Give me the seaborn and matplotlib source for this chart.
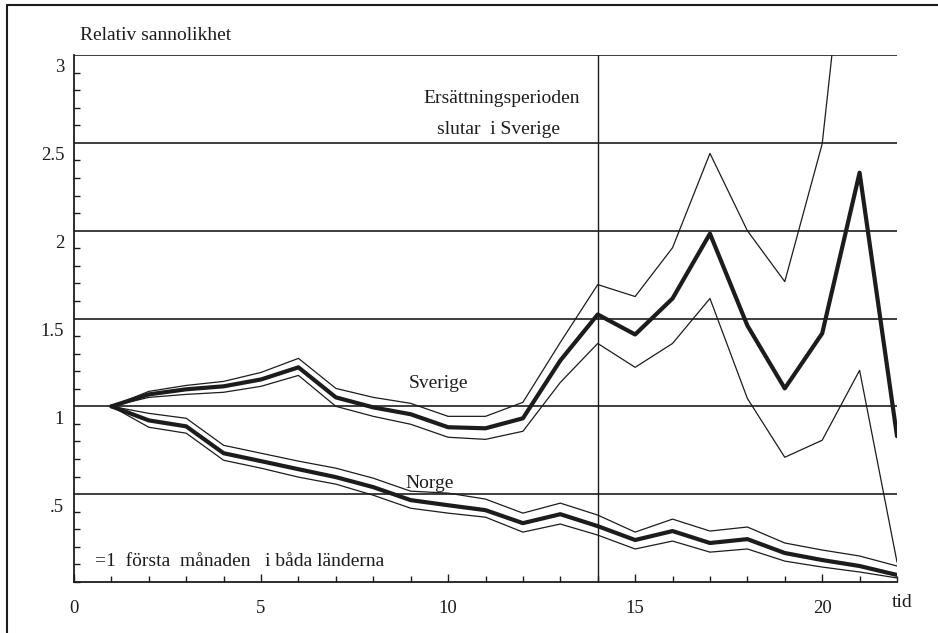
import numpy as np
import pandas as pd
import seaborn as sns
import matplotlib
matplotlib.use("Agg")
import matplotlib.pyplot as plt
import matplotlib.transforms as mtransforms
from matplotlib.lines import Line2D
from matplotlib.ticker import MultipleLocator, FixedLocator

# ---- data ----
months = list(range(1, 23))

sverige = [1.0, 1.068, 1.097, 1.114, 1.153, 1.222, 1.051, 0.994, 0.955, 0.881, 0.875,
           0.932, 1.261, 1.523, 1.409, 1.614, 1.983, 1.46, 1.102, 1.415, 2.33, 0.83]
sverige_hi = [1.0, 1.085, 1.119, 1.142, 1.193, 1.273, 1.102, 1.051, 1.017, 0.943, 0.943,
              1.023, 1.364, 1.693, 1.625, 1.903, 2.44, 2.0, 1.71, 2.494, 4.44, 5.0]
sverige_lo = [1.0, 1.051, 1.068, 1.08, 1.114, 1.176, 1.0, 0.943, 0.898, 0.824, 0.812,
              0.858, 1.136, 1.358, 1.222, 1.358, 1.614, 1.045, 0.71, 0.807, 1.205, 0.114]

norge = [1.0, 0.92, 0.886, 0.733, 0.688, 0.642, 0.597, 0.54, 0.466, 0.437, 0.409,
         0.335, 0.386, 0.318, 0.239, 0.29, 0.222, 0.244, 0.165, 0.125, 0.091, 0.04]
norge_hi = [1.0, 0.96, 0.932, 0.778, 0.733, 0.688, 0.648, 0.591, 0.517, 0.506, 0.472,
            0.392, 0.449, 0.381, 0.284, 0.358, 0.29, 0.313, 0.222, 0.182, 0.148, 0.091]
norge_lo = [1.0, 0.881, 0.847, 0.693, 0.648, 0.597, 0.557, 0.494, 0.42, 0.392, 0.369,
            0.284, 0.33, 0.267, 0.188, 0.233, 0.17, 0.188, 0.119, 0.085, 0.057, 0.023]

x_ticks = [0, 5, 10, 15, 20]
y_ticks = [0.5, 1.0, 1.5, 2.0, 2.5, 3.0]
y_tick_labels = [".5", "1", "1.5", "2", "2.5", "3"]
period_end = 14

# ---- style ----
sns.set_style("white")
plt.rcParams["font.family"] = ["Liberation Serif", "DejaVu Serif"]
INK = "#1c1c1c"

fig = plt.figure(figsize=(9.38, 6.33), dpi=100)
ax = fig.add_axes([74 / 938, 51 / 633, (897 - 74) / 938, (582 - 55) / 633])

series = [
    (sverige, 3.0), (sverige_hi, 0.9), (sverige_lo, 0.9),
    (norge, 3.0), (norge_hi, 0.9), (norge_lo, 0.9),
]
for vals, lw in series:
    df = pd.DataFrame({"tid": months, "v": vals})
    sns.lineplot(data=df, x="tid", y="v", ax=ax, color=INK, lw=lw, zorder=3)

for yv in y_ticks:
    ax.axhline(yv, color=INK, lw=1.2, zorder=2)
ax.axvline(period_end, color=INK, lw=1.0, zorder=2)

ax.set_xlim(0, 22)
ax.set_ylim(0, 3)
ax.set_xlabel("")
ax.set_ylabel("")

for s in ["top", "right"]:
    ax.spines[s].set_visible(False)
for s in ["left", "bottom"]:
    ax.spines[s].set_color(INK)
    ax.spines[s].set_linewidth(1.3)

ax.xaxis.set_major_locator(FixedLocator(x_ticks))
ax.xaxis.set_minor_locator(MultipleLocator(1))
ax.set_xticks(x_ticks)
ax.set_xticklabels([str(t) for t in x_ticks])
ax.set_yticks(y_ticks)
ax.set_yticklabels(y_tick_labels)
ax.yaxis.set_minor_locator(MultipleLocator(0.1))

ax.tick_params(axis="x", which="major", direction="in", length=6, width=1, color=INK,
               labelsize=13.5, pad=13, labelcolor=INK, bottom=True)
ax.tick_params(axis="x", which="minor", direction="in", length=4, width=1, color=INK,
               bottom=True)
ax.tick_params(axis="y", which="major", direction="in", length=0, labelsize=13.5,
               pad=7, labelcolor=INK, left=True)
ax.tick_params(axis="y", which="minor", direction="in", length=4, width=1, color=INK,
               left=True)

offset = mtransforms.ScaledTranslation(0, -11 / 100, fig.dpi_scale_trans)
for lab in ax.get_yticklabels():
    lab.set_transform(lab.get_transform() + offset)

fs = 14
fig.text(80 / 938, 1 - 36 / 633, "Relativ sannolikhet", fontsize=fs, color=INK,
         ha="left", va="center")
ax.text(9.33, 2.75, "Ersättningsperioden", fontsize=fs, color=INK, ha="left", va="center")
ax.text(9.71, 2.574, "slutar  i Sverige", fontsize=fs, color=INK, ha="left", va="center")
ax.text(8.96, 1.131, "Sverige", fontsize=fs, color=INK, ha="left", va="center")
ax.text(8.85, 0.5625, "Norge", fontsize=fs, color=INK, ha="left", va="center")
ax.text(0.56, 0.119, "=1  första  månaden   i båda länderna", fontsize=fs, color=INK,
        ha="left", va="center")
ax.text(22.14, -0.119, "tid", fontsize=fs, color=INK, ha="center", va="center",
        clip_on=False)

# outer frame of the figure (top and left edges)
fig.add_artist(Line2D([7 / 938, 1.0], [1 - 5 / 633, 1 - 5 / 633], color=INK, lw=1.5,
                      transform=fig.transFigure))
fig.add_artist(Line2D([7 / 938, 7 / 938], [0.0, 1 - 5 / 633], color=INK, lw=1.5,
                      transform=fig.transFigure))

fig.savefig("out.png", dpi=100, facecolor="white")
